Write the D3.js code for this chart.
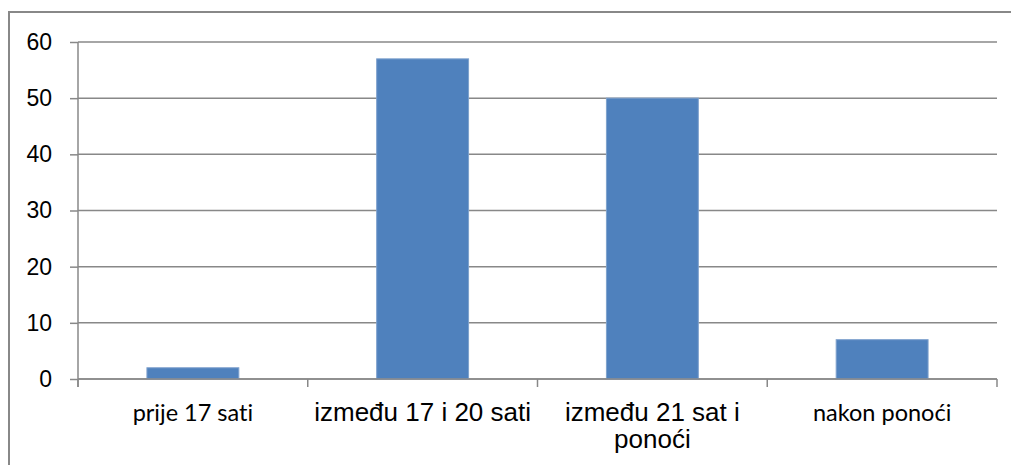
<!DOCTYPE html>
<html lang="hr">
  <head>
    <meta charset="utf-8">
    <title>Stupci</title>
    <script src="https://d3js.org/d3.v7.min.js"></script>
    <style>
      body { margin: 0; background: #fff; }
      .grid line { stroke: #888; stroke-width: 1.5; }
      .y-os text { font: 23px "Liberation Sans", Arial, sans-serif; fill: #000; }
      .x-os text { fill: #000; font-variant-ligatures: none; }
    </style>
  </head>
  <body>
    <div id="chart"></div>
    <script type="text/javascript">
      "use strict"
      // kategorije i vrijednosti
      var kategorije = ['prije 17 sati', 'između 17 i 20 sati', 'između 21 sat i ponoći', 'nakon ponoći']
      var vrijednosti = [2, 57, 50, 7]
      var yTickovi = [0, 10, 20, 30, 40, 50, 60]
      // dva reda za treću oznaku, font po oznaci (kao u originalu)
      var oznakeRedovi = [['prije 17 sati'], ['između 17 i 20 sati'], ['između 21 sat i', 'ponoći'], ['nakon ponoći']]
      var oznakeFont = ['c', 'a', 'a', 'c']

      var sirinaSVG = 1011, visinaSVG = 465
      var margin = {top: 42, right: 14, bottom: 86, left: 78}
      var sirinaVis = sirinaSVG - margin.left - margin.right
      var visinaVis = visinaSVG - margin.top - margin.bottom

      var svg = d3.select('#chart').append('svg')
        .attr('width', sirinaSVG)
        .attr('height', visinaSVG)

      // okvir oko grafikona
      svg.append('rect')
        .attr('x', 9).attr('y', 12)
        .attr('width', 1010).attr('height', 480)
        .attr('fill', 'none')
        .attr('stroke', '#888')
        .attr('stroke-width', 2)

      var g = svg.append('g')
        .attr('transform', 'translate(' + margin.left + ',' + margin.top + ')')

      var x = d3.scaleBand()
        .domain(kategorije)
        .range([0, sirinaVis])
        .paddingInner(0.6)
        .paddingOuter(0.3)

      var y = d3.scaleLinear()
        .domain([0, 60])
        .range([visinaVis, 0])

      // mreža
      g.append('g').attr('class', 'grid')
        .selectAll('line')
        .data(yTickovi)
        .enter().append('line')
          .attr('x1', 0).attr('x2', sirinaVis)
          .attr('y1', d => y(d)).attr('y2', d => y(d))

      // stupci
      g.selectAll('.stupac')
        .data(vrijednosti)
        .enter().append('rect')
          .attr('class', 'stupac')
          .attr('x', (d, i) => x(kategorije[i]))
          .attr('width', x.bandwidth())
          .attr('y', d => y(d))
          .attr('height', d => visinaVis - y(d))
          .attr('fill', '#4f81bd')
          .attr('stroke', '#7ea1cd')
          .attr('stroke-width', 1)

      // y os
      var yOs = g.append('g').attr('class', 'y-os')
        .call(d3.axisLeft(y).tickValues(yTickovi).tickSize(8).tickPadding(18))
      yOs.selectAll('line, path').attr('stroke', '#888').attr('stroke-width', 1.5)
      yOs.select('.domain').attr('d', 'M0,' + (visinaVis + 8) + 'V0')

      // x os - crtice na granicama kategorija
      var granice = kategorije.map((k, i) => i * x.step())
      granice.push(sirinaVis)
      var xOs = g.append('g').attr('class', 'x-os')
        .attr('transform', 'translate(0,' + visinaVis + ')')
      xOs.append('line')
        .attr('x1', 0).attr('x2', sirinaVis)
        .attr('stroke', '#888').attr('stroke-width', 1.5)
      xOs.selectAll('.crtica')
        .data(granice)
        .enter().append('line')
          .attr('class', 'crtica')
          .attr('x1', d => d).attr('x2', d => d)
          .attr('y1', 0).attr('y2', 8)
          .attr('stroke', '#888').attr('stroke-width', 1.5)

      // oznake kategorija
      var oznake = xOs.selectAll('.oznaka')
        .data(kategorije)
        .enter().append('text')
          .attr('class', 'oznaka')
          .attr('text-anchor', 'middle')
          .attr('x', d => x(d) + x.bandwidth() / 2)
          .attr('y', 42)
          .style('font-family', (d, i) => oznakeFont[i] === 'a' ? '"Liberation Sans", Arial, sans-serif' : 'Lato, "Open Sans", sans-serif')
          .style('font-size', (d, i) => oznakeFont[i] === 'a' ? '26px' : '23.5px')
      oznake.selectAll('tspan')
        .data((d, i) => oznakeRedovi[i].map(t => ({t: t, x: x(d) + x.bandwidth() / 2})))
        .enter().append('tspan')
          .attr('x', d => d.x)
          .attr('dy', (d, j) => j === 0 ? 0 : 27)
          .text(d => d.t)
    </script>
  </body>
</html>
